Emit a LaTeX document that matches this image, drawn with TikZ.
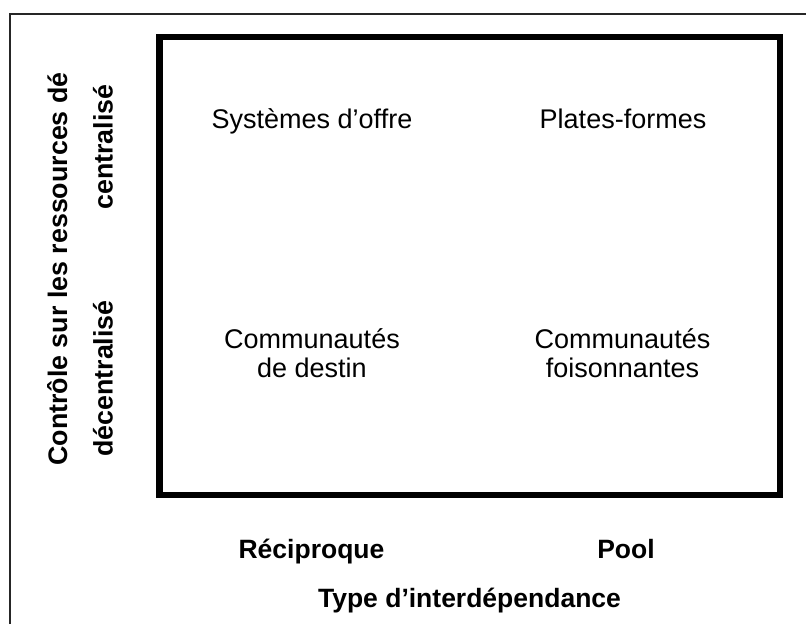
\documentclass[tikz,border=0pt]{standalone}
\usepackage{fontspec}
\setmainfont{Liberation Sans}
\begin{document}
\begin{tikzpicture}[x=1pt,y=-1pt,
  quad/.style={font=\fontsize{27}{29}\selectfont, align=center, anchor=base, inner sep=0pt},
  axlab/.style={font=\fontsize{26.5}{29}\selectfont\bfseries, anchor=base, inner sep=0pt},
  vlab/.style={font=\fontsize{26.8}{29}\selectfont\bfseries, anchor=base, inner sep=0pt, rotate=90}]
\useasboundingbox (0,0) rectangle (806,624);
\fill[white] (0,0) rectangle (806,624);
% outer frame
\coordinate (fbl) at (10,624);
\coordinate (ftl) at (10,14);
\coordinate (ftr) at (806,14);
\draw[line width=1.2pt, black!85] (fbl) -- (ftl) -- (ftr);
% main box
\coordinate (btl) at (159.5,37);
\coordinate (bbr) at (780,495);
\draw[line width=6.5pt] (btl) rectangle (bbr);
% quadrants
\node[quad] (so) at (312,128) {Systèmes d’offre};
\node[quad] (pf) at (623,128) {Plates-formes};
\node[quad] (cd1) at (312,348) {Communautés};
\node[quad] (cd2) at (312,377.5) {de destin};
\node[quad] (cf1) at (622.5,348) {Communautés};
\node[quad] (cf2) at (622.5,377.5) {foisonnantes};
% horizontal axis
\node[axlab] (rec) at (311.5,558) {Réciproque};
\node[axlab] (pool) at (626,558) {Pool};
\node[axlab] (type) at (469.5,607) {Type d’interdépendance};
% vertical axis
\node[vlab] (ctrl) at (67,269) {Contrôle sur les ressources dé};
\node[vlab] (cen) at (112.5,147) {centralisé};
\node[vlab] (dec) at (112.5,378.5) {décentralisé};
\end{tikzpicture}
\end{document}
